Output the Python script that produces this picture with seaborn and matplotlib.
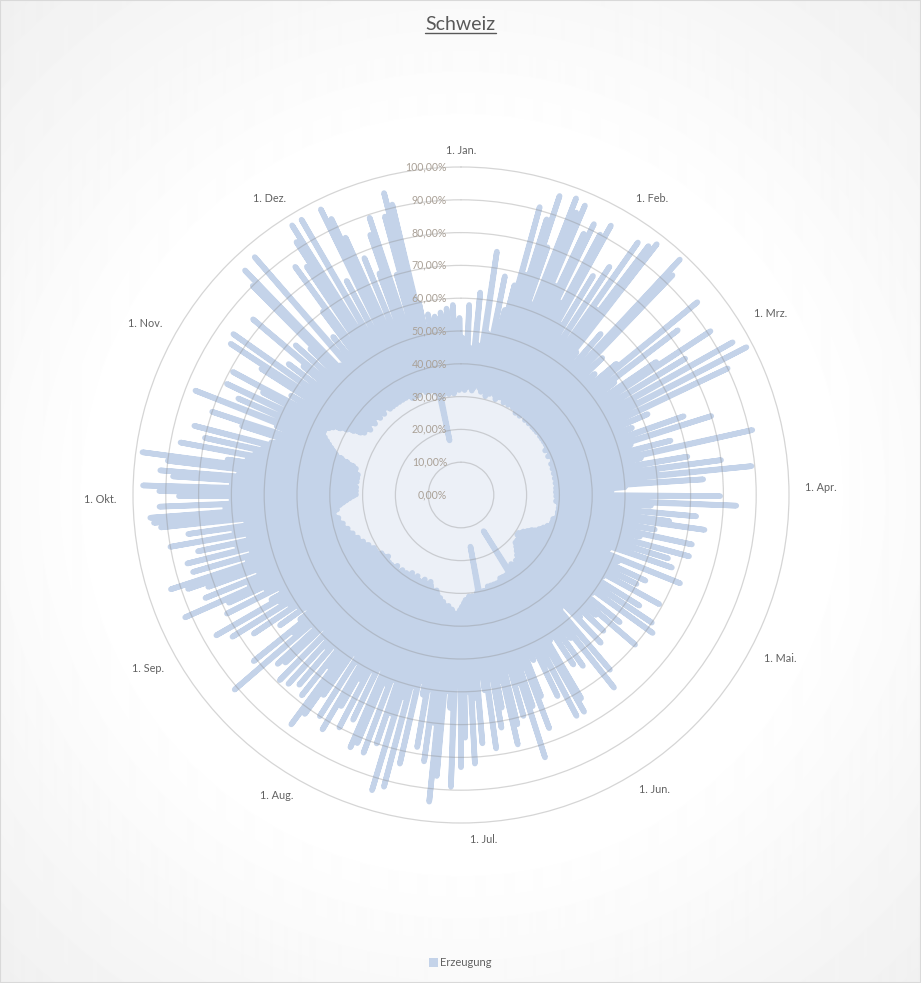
import numpy as np
import pandas as pd
import seaborn as sns
import matplotlib
matplotlib.use('Agg')
import matplotlib.pyplot as plt
from matplotlib.patches import Rectangle, Patch
from matplotlib.lines import Line2D

# Erzeugung in % pro Tag (1. Jan. .. 31. Dez.)
tages_max = [
    48, 44, 58, 45, 42, 62, 46, 44, 75, 50,
    45, 68, 48, 58, 66, 91, 70, 88, 96, 80,
    62, 97, 93, 96, 70, 88, 92, 66, 90, 94,
    60, 78, 52, 83, 55, 94, 70, 95, 97, 56,
    50, 65, 48, 98, 93, 50, 60, 46, 55, 50,
    62, 93, 52, 83, 58, 48, 72, 91, 55, 80,
    52, 95, 60, 98, 55, 90, 50, 62, 48, 56,
    46, 72, 50, 80, 54, 48, 66, 50, 91, 56,
    52, 70, 48, 80, 60, 89, 56, 74, 50, 46,
    44, 79, 52, 84, 58, 48, 72, 50, 64, 75,
    50, 60, 46, 72, 56, 48, 72, 52, 66, 50,
    68, 48, 46, 72, 52, 45, 62, 50, 60, 46,
    69, 50, 45, 64, 52, 70, 48, 72, 50, 45,
    62, 48, 70, 55, 46, 60, 48, 52, 62, 45,
    46, 70, 52, 75, 55, 48, 64, 50, 62, 46,
    52, 72, 76, 55, 76, 58, 68, 50, 55, 48,
    66, 76, 56, 68, 84, 60, 70, 55, 72, 78,
    58, 66, 72, 56, 78, 60, 55, 76, 62, 82,
    60, 74, 83, 58, 89, 65, 60, 86, 94, 70,
    82, 60, 78, 62, 58, 84, 60, 92, 64, 94,
    70, 80, 60, 84, 62, 82, 84, 58, 76, 60,
    80, 64, 74, 83, 60, 80, 58, 74, 82, 87,
    66, 78, 60, 76, 62, 78, 60, 79, 58, 74,
    76, 60, 91, 66, 81, 62, 58, 68, 60, 76,
    62, 82, 64, 86, 66, 62, 80, 66, 78, 92,
    70, 84, 66, 82, 88, 93, 68, 85, 66, 86,
    70, 82, 66, 90, 70, 84, 66, 92, 94, 95,
    72, 92, 70, 86, 92, 97, 70, 88, 92, 68,
    90, 98, 72, 66, 87, 64, 80, 62, 84, 60,
    58, 70, 80, 56, 60, 87, 54, 74, 52, 79,
    56, 68, 79, 52, 60, 50, 72, 84, 54, 85,
    56, 66, 50, 62, 83, 52, 68, 48, 64, 90,
    95, 54, 50, 96, 56, 62, 50, 70, 86, 58,
    84, 92, 97, 60, 97, 56, 74, 52, 97, 93,
    86, 55, 78, 50, 72, 84, 89, 56, 70, 88,
    95, 91, 60, 48, 56, 42, 55, 44, 56, 46,
    57, 45, 58, 42, 54,
]
tages_min = [
    33, 34, 32, 35, 33, 34, 32, 33, 35, 34,
    33, 32, 34, 33, 31, 33, 32, 34, 33, 32,
    31, 33, 32, 34, 32, 31, 33, 32, 31, 32,
    32, 31, 33, 31, 30, 32, 31, 30, 32, 31,
    31, 30, 32, 31, 30, 31, 32, 30, 31, 30,
    31, 30, 32, 31, 30, 31, 30, 31, 30, 31,
    30, 31, 30, 29, 31, 30, 30, 29, 31, 30,
    30, 31, 29, 30, 30, 29, 31, 30, 29, 30,
    30, 29, 30, 31, 29, 30, 30, 29, 30, 29,
    29, 30, 29, 30, 31, 29, 30, 30, 31, 30,
    31, 30, 30, 31, 30, 30, 29, 30, 29, 29,
    29, 28, 28, 27, 27, 26, 26, 25, 24, 24,
    23, 23, 22, 22, 22, 21, 22, 21, 22, 22,
    23, 22, 23, 22, 24, 23, 25, 24, 26, 25,
    26, 27, 26, 27, 28, 27, 26, 27, 28, 27,
    13, 28, 29, 28, 29, 28, 29, 28, 29, 30,
    29, 30, 29, 30, 29, 30, 29, 30, 31, 30,
    31, 30, 16, 30, 31, 32, 31, 32, 31, 32,
    32, 33, 34, 35, 36, 37, 36, 35, 36, 34,
    35, 34, 33, 34, 32, 33, 31, 30, 31, 32,
    30, 29, 28, 29, 30, 29, 28, 29, 30, 29,
    29, 28, 29, 30, 29, 28, 29, 30, 29, 30,
    30, 29, 30, 31, 30, 29, 30, 31, 30, 31,
    30, 31, 30, 29, 31, 30, 31, 30, 31, 32,
    31, 32, 31, 32, 33, 32, 33, 34, 33, 34,
    35, 34, 35, 36, 35, 36, 37, 36, 37, 38,
    37, 38, 39, 38, 39, 40, 39, 38, 39, 37,
    36, 35, 34, 33, 32, 33, 32, 33, 32, 34,
    33, 32, 33, 32, 33, 32, 33, 34, 33, 34,
    36, 38, 40, 41, 42, 43, 44, 45, 46, 46,
    46, 45, 44, 42, 40, 38, 36, 35, 36, 35,
    34, 35, 36, 35, 34, 35, 36, 35, 34, 35,
    35, 34, 35, 36, 35, 34, 35, 34, 35, 34,
    35, 34, 35, 34, 35, 34, 35, 34, 33, 34,
    33, 34, 33, 34, 35, 34, 33, 34, 33, 34,
    33, 32, 33, 17, 32, 31, 32, 33, 31, 32,
    33, 31, 32, 33, 32,
]
monate = ['1. Jan.', '1. Feb.', '1. Mrz.', '1. Apr.', '1. Mai.', '1. Jun.',
          '1. Jul.', '1. Aug.', '1. Sep.', '1. Okt.', '1. Nov.', '1. Dez.']
monat_tag = [0, 31, 59, 90, 120, 151, 181, 212, 243, 273, 304, 334]
skala = [0, 10, 20, 30, 40, 50, 60, 70, 80, 90, 100]

blau = '#c4d3e9'
grau_text = '#626262'

sns.set_theme(style='white')
plt.rcParams['font.family'] = ['Lato', 'DejaVu Sans']

W, H = 921, 983
fig = plt.figure(figsize=(W / 100, H / 100), dpi=100)

# hintergrund: weiss in der mitte, nach aussen leicht grau
bg = fig.add_axes([0, 0, 1, 1], zorder=-10)
yy, xx = np.mgrid[0:H, 0:W]
dist = np.hypot(xx - 461, yy - 495)
shade = 255 - 16 * np.clip((dist - 360) / 340, 0, 1)
bg.imshow(shade, cmap='gray', vmin=0, vmax=255, aspect='auto', interpolation='bilinear')
bg.axis('off')

# polar-achse: mitte (461, 495), 100% = 328 px
cx, cy, r100 = 461, 495, 328
rtop = 101
rpx = r100 * rtop / 100
ax = fig.add_axes([(cx - rpx) / W, (H - cy - rpx) / H, 2 * rpx / W, 2 * rpx / H],
                  projection='polar')
ax.set_facecolor('none')
ax.set_theta_zero_location('N')
ax.set_theta_direction(-1)

n = len(tages_max)
tage = np.arange(n)
winkel = np.column_stack([tage, tage + 0.5]).ravel() * 2 * np.pi / 365
werte = np.column_stack([tages_min, tages_max]).ravel().astype(float)
winkel = np.append(winkel, winkel[0] + 2 * np.pi)
werte = np.append(werte, werte[0])
df = pd.DataFrame({'winkel': winkel, 'wert': werte})

ax.fill(df['winkel'], df['wert'], color=blau, alpha=0.32, lw=0, zorder=1)
sns.lineplot(data=df, x='winkel', y='wert', ax=ax, sort=False, estimator=None,
             color=blau, lw=4.0, solid_joinstyle='round', solid_capstyle='round',
             zorder=2)

ax.set_ylim(0, rtop)
ax.set_yticks(skala)
ax.set_yticklabels([])
ax.set_xticks([])
ax.set_xlabel('')
ax.set_ylabel('')
ax.spines['polar'].set_visible(False)
ax.set_axisbelow(False)
ax.yaxis.grid(True, color='#8c8c8c', alpha=0.36, lw=0.9)

for v in skala:
    ax.annotate(f'{v},00%', xy=(0, v), xytext=(-10, 0), textcoords='offset points',
                ha='right', va='center', fontsize=7.6, color='#aaa197')

# monatsbeschriftung aussen, an der ecke zum kreis hin ausgerichtet
for tag, name in zip(monat_tag, monate):
    th = 2 * np.pi * tag / 365
    s = np.sin(th)
    ha = 'left' if s > 0.01 else ('right' if s < -0.01 else 'center')
    ax.text(th, 105, name, ha=ha, va='center', fontsize=7.8, color=grau_text)

# titel mit unterstreichung
t = fig.text(0.5, 1 - 24 / H, 'Schweiz', ha='center', va='center',
             fontsize=14, color='#595959')
fig.canvas.draw()
bb = t.get_window_extent(fig.canvas.get_renderer())
fig.add_artist(Line2D([bb.x0 / W, bb.x1 / W], [1 - 33 / H, 1 - 33 / H],
                      transform=fig.transFigure, color='#595959', lw=1))

fig.legend(handles=[Patch(facecolor=blau, edgecolor='none', label='Erzeugung')],
           loc='center', bbox_to_anchor=(0.5, 1 - 963 / H), frameon=False,
           fontsize=8, handlelength=0.8, handleheight=0.8, handletextpad=0.2,
           labelcolor=grau_text)

fig.add_artist(Rectangle((0, 0), 1, 1, transform=fig.transFigure, fill=False,
                         ec='#d9d9d9', lw=1.5))

fig.savefig('out.png', dpi=100)
